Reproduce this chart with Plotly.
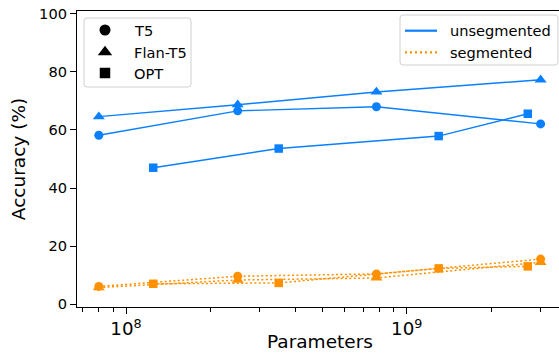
import plotly.graph_objects as go

# Model sizes (number of parameters)
t5_params = [80e6, 250e6, 780e6, 3e9]
flan_params = [80e6, 250e6, 780e6, 3e9]
opt_params = [125e6, 350e6, 1.3e9, 2.7e9]

# Accuracy (%) on unsegmented input
t5_unseg = [58.2, 66.6, 68.0, 62.1]
flan_unseg = [64.6, 68.7, 73.1, 77.3]
opt_unseg = [47.0, 53.6, 57.9, 65.6]

# Accuracy (%) on segmented input
t5_seg = [6.1, 9.6, 10.4, 15.5]
flan_seg = [5.7, 8.3, 9.0, 14.4]
opt_seg = [7.0, 7.3, 12.3, 13.0]

models = ["T5", "Flan-T5", "OPT"]
symbols = ["circle", "triangle-up", "square"]
conditions = ["unsegmented", "segmented"]

BLUE = "#0a80ff"
ORANGE = "#ff9100"
FONT = "DejaVu Sans"
MARKER_SIZE = {"circle": 9, "triangle-up": 10.5, "square": 8.5}
LEGEND_MARKER_SIZE = {"circle": 11, "triangle-up": 12.5, "square": 10.5}

series = [
    (t5_params, t5_unseg, t5_seg, "circle"),
    (flan_params, flan_unseg, flan_seg, "triangle-up"),
    (opt_params, opt_unseg, opt_seg, "square"),
]

fig = go.Figure()

for params, unseg, seg, sym in series:
    fig.add_trace(go.Scatter(
        x=params, y=unseg, mode="lines+markers",
        line=dict(color=BLUE, width=1.4),
        marker=dict(symbol=sym, size=MARKER_SIZE[sym], color=BLUE),
        showlegend=False,
    ))
for params, unseg, seg, sym in series:
    fig.add_trace(go.Scatter(
        x=params, y=seg, mode="lines+markers",
        line=dict(color=ORANGE, width=1.5, dash="2px,2.4px"),
        marker=dict(symbol=sym, size=MARKER_SIZE[sym], color=ORANGE),
        showlegend=False,
    ))

# ---- Legend boxes drawn on an overlay axis measured in pixels ----
# overlay axis spans the plot area: x 77..559 px, y 11..307 px (top-down)
def rounded_box(x0, y0, x1, y1, r=3):
    return (f"M {x0+r},{y0} L {x1-r},{y0} Q {x1},{y0} {x1},{y0+r} "
            f"L {x1},{y1-r} Q {x1},{y1} {x1-r},{y1} L {x0+r},{y1} "
            f"Q {x0},{y1} {x0},{y1-r} L {x0},{y0+r} Q {x0},{y0} {x0+r},{y0} Z")

box_style = dict(type="path", xref="x2", yref="y2", layer="below",
                 fillcolor="rgba(255,255,255,0.8)",
                 line=dict(color="#d0d0d0", width=1))

shapes = [
    dict(path=rounded_box(84, 18, 191, 87), **box_style),
    dict(path=rounded_box(400, 15, 558, 65), **box_style),
]

annotations = []
model_rows = [30, 52, 73]
for name, sym, yy in zip(models, symbols, model_rows):
    fig.add_trace(go.Scatter(
        x=[105], y=[yy], xaxis="x2", yaxis="y2", mode="markers",
        marker=dict(symbol=sym, size=LEGEND_MARKER_SIZE[sym], color="black"),
        showlegend=False, hoverinfo="skip",
    ))
    annotations.append(dict(
        x=132, y=yy, xref="x2", yref="y2", text=name, showarrow=False,
        xanchor="left", yanchor="middle",
        font=dict(family=FONT, size=14.6, color="black"),
    ))

cond_rows = [30.7, 52.3]
cond_lines = [dict(color=BLUE, width=2.2), dict(color=ORANGE, width=2.2, dash="2px,3px")]
for name, yy, ln in zip(conditions, cond_rows, cond_lines):
    fig.add_trace(go.Scatter(
        x=[405, 437], y=[yy, yy], xaxis="x2", yaxis="y2", mode="lines",
        line=ln, showlegend=False, hoverinfo="skip",
    ))
    annotations.append(dict(
        x=448, y=yy, xref="x2", yref="y2", text=name, showarrow=False,
        xanchor="left", yanchor="middle",
        font=dict(family=FONT, size=14.6, color="black"),
    ))

# x-axis title placed just under the tick labels
annotations.append(dict(
    x=0.504, y=-0.1182, xref="paper", yref="paper", text="Parameters",
    showarrow=False, xanchor="center", yanchor="middle",
    font=dict(family=FONT, size=18.5, color="black"),
))

fig.update_layout(
    width=559, height=358,
    margin=dict(l=77, r=0, t=11, b=51),
    plot_bgcolor="white",
    paper_bgcolor="white",
    font=dict(family=FONT, size=14.6, color="black"),
    showlegend=False,
    shapes=shapes,
    annotations=annotations,
    xaxis=dict(
        type="log",
        range=[7.8254, 9.5426],
        dtick=1,
        exponentformat="power",
        showgrid=False,
        showline=True, linecolor="black", linewidth=1.2,
        mirror=True,
        ticks="outside", ticklen=6, tickwidth=1.2, tickcolor="black",
        minor=dict(ticks="outside", ticklen=3.5, tickwidth=0.9, tickcolor="black",
                   dtick="D1", showgrid=False),
        tickfont=dict(family=FONT, size=14.6),
        zeroline=False,
    ),
    yaxis=dict(
        range=[-1, 101],
        tickmode="array",
        tickvals=[0, 20, 40, 60, 80, 100],
        showgrid=False,
        showline=True, linecolor="black", linewidth=1.2,
        ticks="outside", ticklen=6, tickwidth=1.2, tickcolor="black",
        tickfont=dict(family=FONT, size=14.6),
        title=dict(text="Accuracy (%)", font=dict(family=FONT, size=18.5), standoff=8),
        zeroline=False,
    ),
    xaxis2=dict(overlaying="x", anchor="y2", range=[77, 559], visible=False,
                fixedrange=True),
    yaxis2=dict(overlaying="y", anchor="x2", range=[307, 11], visible=False,
                fixedrange=True),
)

fig.write_html("out.html")
